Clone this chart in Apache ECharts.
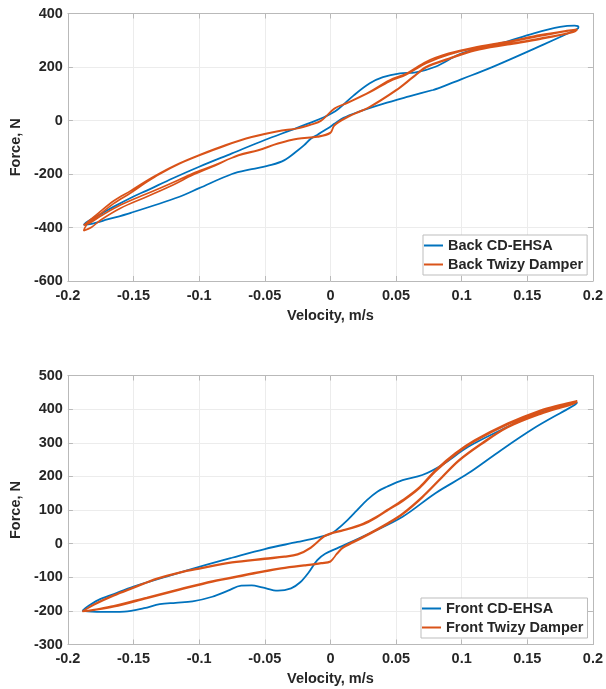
<!DOCTYPE html>
<html>
<head>
<meta charset="utf-8">
<script src="https://cdn.jsdelivr.net/npm/echarts@6/dist/echarts.min.js"></script>
<style>
html,body{margin:0;padding:0;background:#fff;}
#chart{width:606px;height:689px;}
</style>
</head>
<body>
<div id="chart"></div>
<script>
// ---- Data (velocity m/s, force N) ----
const xTickLabels = ['-0.2', '-0.15', '-0.1', '-0.05', '0', '0.05', '0.1', '0.15', '0.2'];
const xMin = -0.2, xMax = 0.2, xStep = 0.05;
const backYMin = -600, backYMax = 400, backYStep = 200;
const frontYMin = -300, frontYMax = 500, frontYStep = 100;

const backNames = ['Back CD-EHSA', 'Back Twizy Damper'];
const frontNames = ['Front CD-EHSA', 'Front Twizy Damper'];

const backEhsa = [
  [-0.188,-390],[-0.185,-378],[-0.175,-350],[-0.165,-322],[-0.150,-284],[-0.140,-262],[-0.120,-216],
  [-0.100,-173],[-0.075,-123],[-0.050,-73],[-0.030,-36],[-0.015,-8],[-0.005,12],[0.005,39],
  [0.018,95],[0.030,139],[0.040,162],[0.053,176],[0.065,180],[0.080,201],[0.100,251],
  [0.130,289],[0.155,326],[0.175,350],[0.186,355],[0.189,350],[0.188,342],
  [0.155,268],[0.120,193],[0.100,155],[0.082,120],[0.078,114],[0.060,90],[0.040,62],
  [0.020,30],[0.010,10],[0.003,-12],[0.000,-23],[-0.005,-38],[-0.010,-54],[-0.015,-68],
  [-0.020,-92],[-0.025,-112],[-0.035,-148],[-0.045,-166],[-0.060,-182],[-0.075,-200],
  [-0.100,-253],[-0.115,-285],[-0.152,-345],[-0.170,-370],[-0.182,-386],[-0.188,-390]
];

const backTwizy = [
  [-0.188,-392],[-0.184,-375],[-0.177,-347],[-0.165,-300],[-0.152,-262],[-0.140,-225],[-0.130,-197],
  [-0.115,-160],[-0.100,-129],[-0.080,-92],[-0.060,-61],[-0.040,-39],[-0.025,-29],[-0.015,-15],
  [-0.007,0],[0.003,45],[0.013,67],[0.030,108],[0.045,151],[0.058,176],[0.073,220],[0.090,251],
  [0.110,274],[0.135,295],[0.160,320],[0.180,336],[0.188,341],
  [0.186,333],[0.160,307],[0.135,286],[0.110,264],[0.090,232],[0.073,201],[0.063,164],[0.050,114],
  [0.030,52],[0.013,14],[0.003,-17],[0.000,-45],[-0.010,-60],[-0.025,-67],[-0.040,-85],[-0.055,-110],
  [-0.070,-129],[-0.090,-173],[-0.105,-204],[-0.120,-241],[-0.140,-285],[-0.160,-328],[-0.175,-372],
  [-0.182,-399],[-0.188,-412],[-0.187,-400],
  [-0.185,-386],[-0.177,-356],[-0.165,-310],[-0.152,-270],[-0.140,-230],[-0.130,-200],[-0.115,-162],
  [-0.100,-131],[-0.080,-94],[-0.060,-63],[-0.040,-41],[-0.025,-30],[-0.015,-16],[-0.007,-1],
  [0.003,44],[0.013,65],[0.030,105],[0.045,146],[0.058,172],[0.073,214],[0.090,246],[0.110,270],
  [0.135,292],[0.160,316],[0.180,334],[0.188,339],
  [0.185,330],[0.160,304],[0.135,283],[0.110,261],[0.090,229],[0.073,198],[0.063,161],[0.050,112],
  [0.030,50],[0.013,12],[0.003,-19],[0.000,-47],[-0.010,-62],[-0.025,-69],[-0.040,-87],[-0.055,-112],
  [-0.070,-131],[-0.090,-170],[-0.105,-198],[-0.120,-232],[-0.140,-274],[-0.160,-316],[-0.175,-357],
  [-0.183,-382],[-0.188,-390]
];

const frontEhsa = [
  [-0.189,-200],[-0.185,-187],[-0.177,-168],[-0.165,-150],[-0.150,-128],[-0.125,-98],[-0.100,-69],
  [-0.075,-42],[-0.050,-16],[-0.025,5],[-0.010,18],[0.000,29],[0.005,42],[0.013,70],[0.020,98],
  [0.028,130],[0.036,155],[0.043,169],[0.055,189],[0.070,204],[0.085,234],[0.105,288],[0.130,338],
  [0.155,383],[0.175,407],[0.188,420],
  [0.186,412],[0.175,388],[0.155,343],[0.130,278],[0.105,209],[0.080,150],[0.055,80],[0.030,31],
  [0.005,-14],[-0.004,-30],[-0.010,-49],[-0.017,-88],[-0.023,-115],[-0.030,-133],[-0.040,-140],
  [-0.052,-130],[-0.060,-124],[-0.068,-125],[-0.078,-140],[-0.090,-158],[-0.105,-172],[-0.118,-176],
  [-0.130,-180],[-0.142,-192],[-0.157,-202],[-0.175,-203],[-0.182,-202],[-0.189,-200]
];

const frontTwizy = [
  [-0.189,-202],[-0.180,-180],[-0.165,-153],[-0.150,-130],[-0.132,-103],[-0.115,-85],[-0.100,-73],
  [-0.075,-55],[-0.050,-44],[-0.035,-38],[-0.025,-31],[-0.015,-11],[-0.005,22],[0.000,31],[0.010,41],
  [0.025,60],[0.035,80],[0.043,100],[0.055,130],[0.068,169],[0.080,219],[0.095,269],[0.110,308],
  [0.135,358],[0.160,397],[0.175,413],[0.188,425],
  [0.185,418],[0.160,388],[0.135,348],[0.115,298],[0.098,249],[0.085,199],[0.070,140],[0.055,90],
  [0.043,60],[0.025,21],[0.010,-9],[0.005,-29],[0.000,-54],[-0.007,-59],[-0.020,-66],[-0.040,-76],
  [-0.065,-95],[-0.090,-114],[-0.115,-138],[-0.140,-163],[-0.165,-188],[-0.180,-198],[-0.189,-202],
  [-0.180,-182],[-0.165,-155],[-0.150,-132],[-0.132,-105],[-0.115,-87],[-0.100,-75],[-0.075,-57],
  [-0.050,-46],[-0.035,-40],[-0.025,-33],[-0.015,-13],[-0.005,20],[0.000,29],[0.010,39],[0.025,57],
  [0.035,77],[0.043,97],[0.055,126],[0.068,165],[0.080,214],[0.095,264],[0.110,304],[0.135,354],
  [0.160,393],[0.175,410],[0.188,422],
  [0.184,414],[0.160,385],[0.135,345],[0.115,295],[0.098,246],[0.085,196],[0.070,137],[0.055,87],
  [0.043,57],[0.025,18],[0.010,-12],[0.005,-31],[0.000,-52],[-0.007,-57],[-0.020,-64],[-0.040,-74],
  [-0.065,-92],[-0.090,-111],[-0.115,-135],[-0.140,-160],[-0.165,-185],[-0.180,-196],[-0.188,-201]
];

// ---- Styling ----
const FONT = 'Liberation Sans, Arial, Helvetica, sans-serif';
const TXT = '#262626';
const BOX = '#b9b9b9';
const GRIDC = '#ececec';
const BLUE = '#0072BD';
const ORANGE = '#D95319';

function xLabel(v){ return xTickLabels[Math.round((v - xMin) / xStep)]; }

function mkX(gi, visible){
  return {
    type: 'value', gridIndex: gi, min: xMin, max: xMax, interval: xStep,
    position: visible ? 'bottom' : 'top',
    name: visible ? 'Velocity, m/s' : '', nameLocation: 'middle', nameGap: 27,
    nameTextStyle: {color: TXT, fontFamily: FONT, fontWeight: 'bold', fontSize: 14.5},
    axisLine: {show: true, onZero: false, lineStyle: {color: BOX, width: 1}},
    axisTick: {show: true, inside: true, length: 5, lineStyle: {color: BOX}},
    axisLabel: {show: visible, formatter: xLabel, color: TXT, fontFamily: FONT, fontWeight: 'bold', fontSize: 14.5, margin: 7},
    splitLine: {show: visible, lineStyle: {color: GRIDC, width: 1}}
  };
}
function mkY(gi, visible, mn, mx, st){
  return {
    type: 'value', gridIndex: gi, min: mn, max: mx, interval: st,
    position: visible ? 'left' : 'right',
    name: visible ? 'Force, N' : '', nameLocation: 'middle', nameGap: 37,
    nameTextStyle: {color: TXT, fontFamily: FONT, fontWeight: 'bold', fontSize: 14.5},
    axisLine: {show: true, onZero: false, lineStyle: {color: BOX, width: 1}},
    axisTick: {show: true, inside: true, length: 5, lineStyle: {color: BOX}},
    axisLabel: {show: visible, color: TXT, fontFamily: FONT, fontWeight: 'bold', fontSize: 14.5, margin: 5},
    splitLine: {show: visible, lineStyle: {color: GRIDC, width: 1}}
  };
}
function mkSeries(name, data, xi, yi, color, w){
  return {
    name: name, type: 'line', xAxisIndex: xi, yAxisIndex: yi, data: data,
    showSymbol: false, symbol: 'none', smooth: 0.35, animation: false,
    lineStyle: {color: color, width: w}, itemStyle: {color: color}
  };
}
function mkLegend(names, left, top){
  return {
    data: names, orient: 'vertical', left: left, top: top,
    backgroundColor: '#fff', borderColor: '#bdbdbd', borderWidth: 1, borderRadius: 0,
    padding: [2, 4, 2, 1], itemGap: 2, itemWidth: 19, itemHeight: 2, itemTextGap: 3,
    icon: 'rect',
    textStyle: {color: TXT, fontFamily: FONT, fontWeight: 'bold', fontSize: 14.5, lineHeight: 17}
  };
}

const chart = echarts.init(document.getElementById('chart'), null, {renderer: 'canvas'});
chart.setOption({
  backgroundColor: '#fff',
  animation: false,
  grid: [
    {left: 60, top: 13.5, width: 533, height: 267.5, show: false},
    {left: 60, top: 375.5, width: 533, height: 269, show: false}
  ],
  xAxis: [mkX(0, true), mkX(0, false), mkX(1, true), mkX(1, false)],
  yAxis: [mkY(0, true, backYMin, backYMax, backYStep), mkY(0, false, backYMin, backYMax, backYStep),
          mkY(1, true, frontYMin, frontYMax, frontYStep), mkY(1, false, frontYMin, frontYMax, frontYStep)],
  legend: [mkLegend(backNames, 423, 235), mkLegend(frontNames, 421, 598)],
  series: [
    mkSeries(backNames[0], backEhsa, 0, 0, BLUE, 1.8),
    mkSeries(backNames[1], backTwizy, 0, 0, ORANGE, 1.6),
    mkSeries(frontNames[0], frontEhsa, 2, 2, BLUE, 1.8),
    mkSeries(frontNames[1], frontTwizy, 2, 2, ORANGE, 1.6)
  ]
});
</script>
</body>
</html>
